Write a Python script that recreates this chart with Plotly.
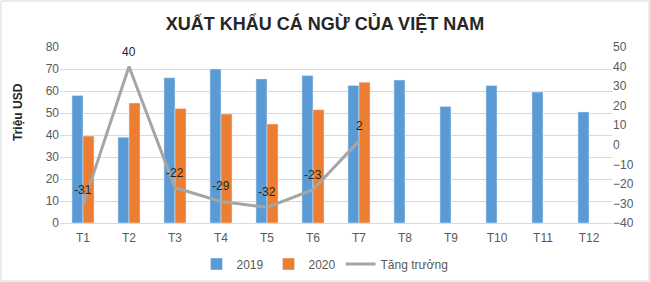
import plotly.graph_objects as go

months = ["T1", "T2", "T3", "T4", "T5", "T6", "T7", "T8", "T9", "T10", "T11", "T12"]
v2019 = [58, 39, 66, 70, 65.5, 67, 62.5, 65, 53, 62.5, 59.5, 50.5]
v2020 = [39.5, 54.5, 52, 49.5, 45, 51.5, 64]
growth = [-31, 40, -22, -29, -32, -23, 2]

W, H = 650, 282
L, R, T, B = 60, 38, 47, 59

fig = go.Figure()
fig.add_trace(go.Bar(x=months, y=v2019, name="2019", marker_color="#5B9BD5"))
fig.add_trace(go.Bar(x=months[:len(v2020)], y=v2020, name="2020", marker_color="#ED7D31"))
fig.add_trace(go.Scatter(x=months[:len(growth)], y=growth, name="Tăng trưởng", yaxis="y2",
                         mode="lines", line=dict(color="#A5A5A5", width=3)))

for m, g in zip(months, growth):
    fig.add_annotation(x=m, y=g, xref="x", yref="y2", text=str(g), showarrow=False,
                       yshift=15, font=dict(size=12, color="#262626"))

fig.update_layout(
    width=W, height=H,
    margin=dict(l=L, r=R, t=T, b=B),
    paper_bgcolor="white", plot_bgcolor="white",
    font=dict(family="Liberation Sans, Arial", size=11, color="#595959"),
    bargap=0.52, bargroupgap=0,
    title=dict(text="<b>XUẤT KHẨU CÁ NGỪ CỦA VIỆT NAM</b>", x=0.5, xanchor="center",
               y=1 - 24 / H, yanchor="middle", font=dict(size=18, color="#262626")),
    xaxis=dict(showgrid=False, showline=True, linecolor="#D9D9D9", ticks="",
               ticklabelstandoff=4, automargin=False, tickfont=dict(size=12, color="#595959")),
    yaxis=dict(range=[0, 80], dtick=10, showgrid=True, gridcolor="#D9D9D9",
               zeroline=False, ticks="", automargin=False, tickfont=dict(size=12, color="#595959")),
    yaxis2=dict(range=[-40, 50], dtick=10, overlaying="y", side="right", showgrid=False,
                zeroline=False, ticks="", automargin=False, tickfont=dict(size=12, color="#595959")),
    legend=dict(orientation="h", x=0.5, xanchor="center", xref="container",
                y=1 - 264 / H, yref="container",
                yanchor="middle", font=dict(size=12, color="#595959"), traceorder="normal"),
    showlegend=True,
)

fig.add_annotation(text="<b>Triệu USD</b>", textangle=-90, xref="paper", yref="paper",
                   x=-(L - 18) / (W - L - R), xanchor="center",
                   y=1 - (112 - T) / (H - T - B), yanchor="middle", showarrow=False,
                   font=dict(size=12, color="#262626"))

pw, ph = W - L - R, H - T - B
fig.add_shape(type="rect", xref="paper", yref="paper",
              x0=-(L - 1) / pw, x1=1 + (R - 1) / pw, y0=-(B - 1) / ph, y1=1 + (T - 1) / ph,
              line=dict(color="#D9D9D9", width=1), layer="below")

fig.write_html("out.html")
